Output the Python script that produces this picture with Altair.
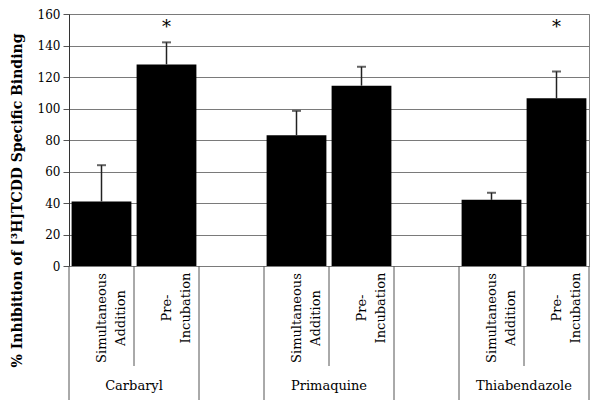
import altair as alt
import pandas as pd

compounds = ["Carbaryl", "Primaquine", "Thiabendazole"]
treatments = ["Simultaneous\nAddition", "Pre-\nIncubation"]
means = [41, 128, 83, 114.5, 42, 106.5]
sds = [23, 14, 15.5, 12, 4.5, 17]
significant = [False, True, False, False, False, True]
y_ticks = [0, 20, 40, 60, 80, 100, 120, 140, 160]

FONT = "DejaVu Serif"
W, H = 520, 252

rows = []
k = 0
for gi, c in enumerate(compounds):
    for ti, t in enumerate(treatments):
        pos = gi * 3 + ti + 0.5
        rows.append({
            "compound": c, "treatment": t, "tidx": ti,
            "pos": pos, "x0": pos - 0.46, "x1": pos + 0.46,
            "mean": means[k], "upper": means[k] + sds[k],
            "sig": significant[k],
        })
        k += 1
df = pd.DataFrame(rows)

groups = pd.DataFrame({"compound": compounds,
                       "center": [gi * 3 + 1.0 for gi in range(len(compounds))]})
n_slots = len(compounds) * 3 - 1
bounds = pd.DataFrame({"b": list(range(n_slots + 1))})
bounds["long"] = bounds["b"].apply(lambda b: b % 3 != 1)

xs = alt.Scale(domain=[0, n_slots], nice=False, zero=False)
ys = alt.Scale(domain=[0, 160], nice=False)
yaxis = alt.Axis(values=y_ticks, title="% Inhibition of [³H]TCDD Specific Binding",
                 grid=True, gridColor="#7a7a7a", domainColor="#333", labelOverlap=False,
                 tickColor="#555", tickSize=6, labelFont=FONT, labelFontSize=12,
                 labelColor="black", labelPadding=3,
                 titleFont=FONT, titleFontSize=14, titleFontWeight="bold",
                 titleColor="black", titleAngle=270, titleAlign="center",
                 titleBaseline="middle", titleX=-52, titleY=186)

bars = alt.Chart(df).mark_bar(color="black").encode(
    x=alt.X("x0:Q", scale=xs, axis=None),
    x2="x1:Q",
    y=alt.Y("mean:Q", scale=ys, axis=yaxis),
    y2=alt.datum(0),
)

err = alt.Chart(df).mark_rule(color="#222", strokeWidth=1.5).encode(
    x=alt.X("pos:Q", scale=xs, axis=None), y=alt.Y("mean:Q", scale=ys, axis=yaxis), y2="upper:Q")
caps = alt.Chart(df).mark_tick(color="#222", orient="horizontal", size=9, thickness=2).encode(
    x=alt.X("pos:Q", scale=xs, axis=None), y=alt.Y("upper:Q", scale=ys, axis=yaxis))

stars = alt.Chart(df).transform_filter("datum.sig").mark_text(
    text="*", font=FONT, fontSize=18, baseline="middle").encode(
    x=alt.X("pos:Q", scale=xs, axis=None), y=alt.datum(151, scale=ys, axis=yaxis))

seps_long = alt.Chart(bounds).transform_filter("datum.long").mark_rule(color="#555").encode(
    x=alt.X("b:Q", scale=xs, axis=None), y=alt.value(H), y2=alt.value(H + 134))
seps_short = alt.Chart(bounds).transform_filter("!datum.long").mark_rule(color="#555").encode(
    x=alt.X("b:Q", scale=xs, axis=None), y=alt.value(H), y2=alt.value(H + 100))

sim_lab = alt.Chart(df).transform_filter("datum.tidx == 0").mark_text(
    font=FONT, fontSize=13, angle=270, align="center", baseline="middle",
    lineBreak="\n", lineHeight=19).encode(
    x=alt.X("pos:Q", scale=xs, axis=None), y=alt.value(H + 52), text="treatment:N")
pre_lab = alt.Chart(df).transform_filter("datum.tidx == 1").mark_text(
    font=FONT, fontSize=13, angle=270, align="center", baseline="middle",
    lineBreak="\n", lineHeight=19).encode(
    x=alt.X("pos:Q", scale=xs, axis=None), y=alt.value(H + 42), text="treatment:N")

grp_lab = alt.Chart(groups).mark_text(font=FONT, fontSize=13, baseline="middle").encode(
    x=alt.X("center:Q", scale=xs, axis=None), y=alt.value(H + 120), text="compound:N")

chart = alt.layer(bars, err, caps, stars, seps_long, seps_short, sim_lab, pre_lab, grp_lab).properties(
    width=W, height=H,
    autosize=alt.AutoSizeParams(type="none"),
    padding={"left": 61, "top": 6, "right": 3, "bottom": 137},
).configure_view(stroke="#808080")

chart.save("out.html", embed_options={"renderer": "svg", "actions": False})
